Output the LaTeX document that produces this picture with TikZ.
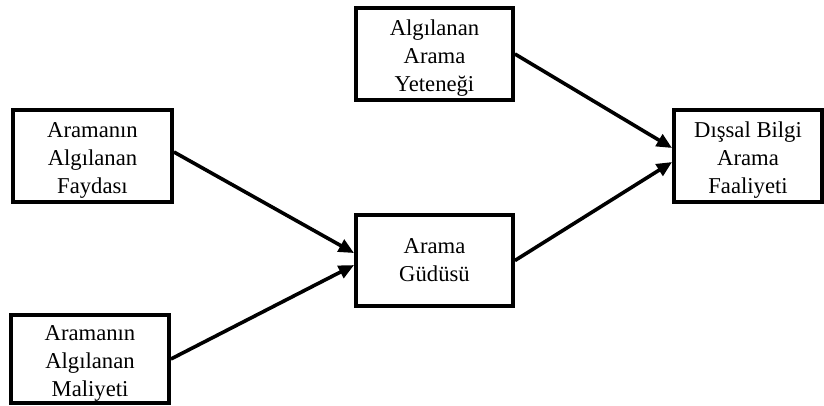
\documentclass[tikz,border=0pt]{standalone}
\usepackage{fontspec}
\setmainfont{Liberation Serif}
\usetikzlibrary{arrows.meta}
% taller first line so three-line labels sit a little lower in their boxes
\newcommand\firstline{\rule{0pt}{17.5pt}}
\begin{document}
\begin{tikzpicture}[x=0.75pt,y=-0.75pt,
  box/.style={draw, line width=2.9pt, inner sep=0pt, align=center,
    font=\fontsize{17}{21}\selectfont},
  arr/.style={line width=2.7pt, -{Triangle[length=11.5pt,width=10pt]}}]
\useasboundingbox (0,0) rectangle (824,405);
% concept boxes
\node[box, minimum width=117.75pt, minimum height=69pt] (yet) at (434.5,54) {\firstline Algılanan\\Arama\\Yeteneği};
\node[box, minimum width=119.25pt, minimum height=69pt] (fay) at (92.5,156) {\firstline Aramanın\\Algılanan\\Faydası};
\node[box, minimum width=117.75pt, minimum height=68.25pt] (gud) at (434.5,260.5) {Arama\\Güdüsü};
\node[box, minimum width=118.5pt, minimum height=66pt] (mal) at (90,359) {\firstline Aramanın\\Algılanan\\Maliyeti};
\node[box, minimum width=111pt, minimum height=69pt] (dis) at (748,156) {\firstline Dışsal Bilgi\\Arama\\Faaliyeti};
% causal paths
\draw[arr] (yet.east) -- ([yshift=6pt]dis.west);
\draw[arr] (gud.east) -- ([yshift=-4.5pt]dis.west);
\draw[arr] ([yshift=3pt]fay.east) -- ([yshift=5.6pt]gud.west);
\draw[arr] (mal.east) -- ([yshift=-3.4pt]gud.west);
\end{tikzpicture}
\end{document}
